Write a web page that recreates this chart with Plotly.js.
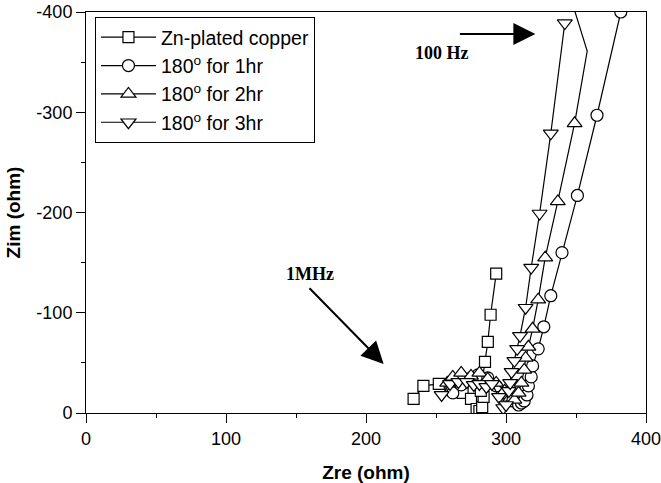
<!DOCTYPE html>
<html>
<head>
<meta charset="utf-8">
<script src="https://cdn.plot.ly/plotly-3.0.1.min.js"></script>
<style>html,body{margin:0;padding:0;background:#fff;}#chart{width:661px;height:483px;}</style>
</head>
<body>
<div id="chart"></div>
<script>
// Data (Zre, -Zim in ohm)
const znX = [234, 241, 252, 261, 269, 275, 279, 281, 283, 284, 282, 285, 287, 289, 293];
const znY = [-14, -27, -29, -26, -20, -14, -4, -2, -6, -16, -22, -51, -71, -98, -139];

const h1X = [262, 268, 275, 280, 287, 293, 300, 305, 309, 311, 313, 315, 316, 318, 319, 323, 327, 332, 340, 351, 365, 382];
const h1Y = [-20, -28, -35, -38, -35, -27, -20, -12, -8, -10, -12, -18, -27, -36, -47, -64, -86, -117, -160, -217, -297, -400];

const h2X = [258, 262, 268, 275, 281, 287, 293, 299, 303, 306, 309, 311, 313, 314, 316, 319, 323, 328, 337, 349, 358, 346];
const h2Y = [-30, -36, -40, -37, -40, -34, -30, -22, -15, -13, -20, -30, -43, -55, -66, -84, -113, -155, -211, -289, -361, -415];

const h3X = [254, 260, 266, 272, 277, 281, 286, 290, 295, 298, 300, 302, 303, 304, 306, 308, 310, 314, 318, 324, 332, 342];
const h3Y = [-18, -29, -31, -31, -28, -29, -26, -29, -16, -5, -8, -22, -30, -41, -52, -64, -77, -105, -145, -199, -279, -389];

const seriesNames = ['Zn-plated copper', '180<sup>o</sup> for 1hr', '180<sup>o</sup> for 2hr', '180<sup>o</sup> for 3hr'];

const xTickVals = [0, 100, 200, 300, 400];
const xTickText = ['0', '100', '200', '300', '400'];
const yTickVals = [0, -100, -200, -300, -400];
const yTickText = ['0', '-100', '-200', '-300', '-400'];

const annText = ['100 Hz', '1MHz'];
const annPos = [[254, -359], [160, -139]];        // label centre (data)
const arrowFrom = [[266, -378], [158.6, -126]];
const arrowTo = [[321, -378], [212.6, -49]];

function mk(x, y, name, symbol, size) {
  return {
    x: x, y: y, name: name, type: 'scatter', mode: 'lines+markers',
    line: {color: '#000', width: 1.2},
    marker: {symbol: symbol, size: size, color: '#fff', line: {color: '#000', width: 1.2}},
    cliponaxis: true
  };
}

// 2hr: the last bend and the point beyond the frame carry no marker
const n2 = h2X.length;
const tail2 = {
  x: h2X.slice(n2 - 3), y: h2Y.slice(n2 - 3), type: 'scatter', mode: 'lines',
  line: {color: '#000', width: 1.2}, showlegend: false, hoverinfo: 'skip'
};

const traces = [
  mk(znX, znY, seriesNames[0], 'square', 11),
  mk(h1X, h1Y, seriesNames[1], 'circle', 12),
  tail2,
  mk(h2X.slice(0, n2 - 2), h2Y.slice(0, n2 - 2), seriesNames[2], 'triangle-up', 13),
  mk(h3X, h3Y, seriesNames[3], 'triangle-down', 13)
];

const axFont = {family: 'Arial, Liberation Sans, sans-serif', size: 18, color: '#000'};
const serif = {family: 'Liberation Serif, Times New Roman, serif', size: 18, color: '#000'};

const annotations = [
  {x: annPos[0][0], y: annPos[0][1], xref: 'x', yref: 'y', text: '<b>' + annText[0] + '</b>', showarrow: false,
   font: serif, xanchor: 'center', yanchor: 'middle'},
  {x: annPos[1][0], y: annPos[1][1], xref: 'x', yref: 'y', text: '<b>' + annText[1] + '</b>', showarrow: false,
   font: serif, xanchor: 'center', yanchor: 'middle'}
];
for (let i = 0; i < arrowFrom.length; i++) {
  annotations.push({
    x: arrowTo[i][0], y: arrowTo[i][1], ax: arrowFrom[i][0], ay: arrowFrom[i][1],
    xref: 'x', yref: 'y', axref: 'x', ayref: 'y', text: '', showarrow: true,
    arrowhead: 2, arrowsize: 2.2, arrowwidth: 2, arrowcolor: '#000', standoff: 0
  });
}

const layout = {
  width: 661, height: 483,
  margin: {l: 86, r: 15, t: 12, b: 70},
  paper_bgcolor: '#fff', plot_bgcolor: '#fff',
  showlegend: true,
  legend: {x: 0.016, y: 0.9875, xanchor: 'left', yanchor: 'top', bordercolor: '#000', borderwidth: 1,
           bgcolor: '#fff', font: {family: 'Arial, Liberation Sans, sans-serif', size: 19.5, color: '#000'},
           itemwidth: 55, traceorder: 'normal', entrywidth: 215, entrywidthmode: 'pixels'},
  xaxis: {
    range: [0, 400], tickmode: 'array', tickvals: xTickVals, ticktext: xTickText,
    showgrid: false, zeroline: false, showline: true, linecolor: '#000', linewidth: 1, mirror: true,
    ticks: 'outside', ticklen: 9, tickcolor: '#000', tickfont: axFont, ticklabeloverflow: 'allow',
    minor: {tickmode: 'linear', tick0: 0, dtick: 50, ticks: 'outside', ticklen: 4, tickcolor: '#000', showgrid: false},
    title: {text: '<b>Zre (ohm)</b>', font: {family: 'Arial, Liberation Sans, sans-serif', size: 19, color: '#000'}, standoff: 18}
  },
  yaxis: {
    range: [0, -400], tickmode: 'array', tickvals: yTickVals, ticktext: yTickText,
    showgrid: false, zeroline: false, showline: true, linecolor: '#000', linewidth: 1, mirror: true,
    ticks: 'outside', ticklen: 9, tickcolor: '#000', tickfont: axFont,
    minor: {tickmode: 'linear', tick0: 0, dtick: 50, ticks: 'outside', ticklen: 4, tickcolor: '#000', showgrid: false},
    title: {text: '<b>Zim (ohm)</b>', font: {family: 'Arial, Liberation Sans, sans-serif', size: 19, color: '#000'}, standoff: 10}
  },
  annotations: annotations
};

Plotly.newPlot('chart', traces, layout, {displayModeBar: false, staticPlot: true});
</script>
</body>
</html>
